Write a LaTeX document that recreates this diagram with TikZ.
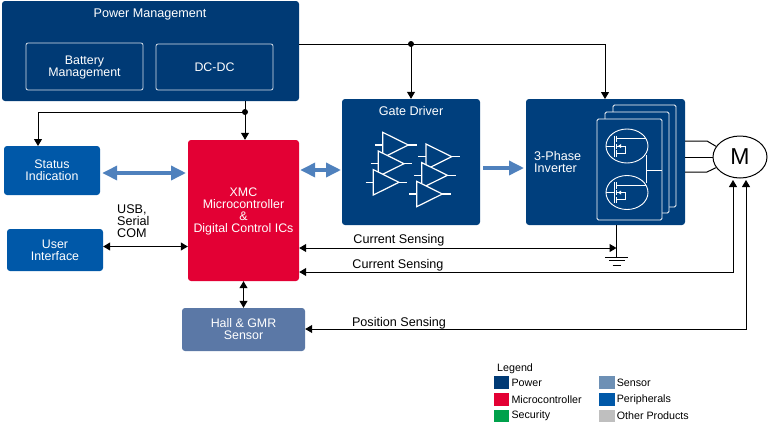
\documentclass[tikz,border=0pt]{standalone}
\usepackage{fontspec}
\setmainfont{Liberation Sans}
\usepackage{xcolor}
\usetikzlibrary{arrows.meta,positioning,shapes.geometric}
\definecolor{powerblue}{HTML}{003A75}
\definecolor{drvblue}{HTML}{003F7D}
\definecolor{periblue}{HTML}{0058A8}
\definecolor{mcured}{HTML}{E30034}
\definecolor{hallblue}{HTML}{5B78A6}
\definecolor{sensorblue}{HTML}{6D90B5}
\definecolor{bigarrow}{HTML}{4F81BD}
\definecolor{secgreen}{HTML}{00A14B}
\definecolor{othergray}{HTML}{BFBFBF}
\tikzset{
  block/.style={rounded corners=3pt, text=white, align=center, font=\fontsize{12.4}{12}\selectfont, inner sep=0pt},
  inbox/.style={draw=white!85!powerblue, line width=0.8pt, rounded corners=2pt, text=white, align=center, font=\fontsize{12.4}{12}\selectfont, inner sep=0pt},
  card/.style={draw=white, line width=0.9pt, fill=drvblue, rounded corners=1.5pt, inner sep=0pt},
  wire/.style={line width=1pt, -{Triangle[length=7pt,width=8pt]}},
  biwire/.style={line width=1pt, {Triangle[length=7pt,width=8pt]}-{Triangle[length=7pt,width=8pt]}},
  fatarrow/.style={line width=3.5pt, bigarrow, -{Triangle[length=15pt,width=14pt]}},
  fatbi/.style={line width=3.5pt, bigarrow, {Triangle[length=15pt,width=14pt]}-{Triangle[length=15pt,width=14pt]}},
  lbl/.style={font=\fontsize{12.6}{12}\selectfont, inner sep=0pt},
  junction/.style={circle, fill=black, minimum size=6pt, inner sep=0pt},
  legbox/.style={minimum width=15.5pt, minimum height=12.5pt, inner sep=0pt},
  legtxt/.style={font=\fontsize{10.7}{12}\selectfont, inner sep=0pt, anchor=west}
}
\begin{document}
\begin{tikzpicture}[x=1pt,y=-1pt]
\useasboundingbox (0,0) rectangle (768,432);

% Power Management
\node[block, fill=powerblue, minimum width=297pt, minimum height=100pt] (power) at (150.5,51) {};
\node[text=white, lbl] (powertitle) at (150,14) {Power Management};
\node[inbox, minimum width=117pt, minimum height=47pt] (battery) at (84.5,66.5) {\rule{0pt}{11pt}Battery\\Management};
\node[inbox, minimum width=117pt, minimum height=46pt] (dcdc) at (214.5,67) {DC-DC};

% Left blocks
\node[block, fill=periblue, minimum width=96pt, minimum height=49pt] (status) at (52,170.5) {Status\\Indication};
\node[block, fill=periblue, minimum width=96pt, minimum height=42pt] (user) at (55,250) {User\\Interface};

% Microcontroller
\node[block, fill=mcured, minimum width=111pt, minimum height=141pt] (mcu) at (243.5,210.5) {\rule{0pt}{11pt}XMC\\Microcontroller\\\&\\Digital Control ICs};
\node[block, fill=hallblue, minimum width=123pt, minimum height=43pt] (hall) at (243.5,329.5) {Hall \& GMR\\Sensor};

% Gate Driver
\node[block, fill=drvblue, minimum width=138pt, minimum height=126pt] (gate) at (411,162) {};
\node[text=white, lbl] (gatetitle) at (411,111) {Gate Driver};
\foreach \ax/\ay in {382.7/145, 378.3/163.7, 373.3/182.3, 426/156.7, 421.7/175.3, 416.7/194} {
  \draw[white, line width=1.2pt] (\ax-7.7,\ay) -- (\ax,\ay);
  \draw[white, line width=1.2pt] (\ax+25.7,\ay) -- (\ax+34,\ay);
  \draw[white, line width=1.2pt, fill=drvblue] (\ax,\ay-12.7) -- (\ax,\ay+12.7) -- (\ax+25.7,\ay) -- cycle;
}

% Inverter
\node[block, fill=drvblue, minimum width=159pt, minimum height=126pt] (inverter) at (605.5,162) {};
\node[card, minimum width=63pt, minimum height=102pt] (cardc) at (644.5,156) {};
\node[card, minimum width=64pt, minimum height=101pt] (cardb) at (637,162.5) {};
\node[card, minimum width=65pt, minimum height=101pt] (carda) at (629.5,169.5) {};
\node[text=white, lbl, align=left, anchor=west] (invlabel) at (534,161.5) {3-Phase\\Inverter};
\foreach \fy/\fname in {146/fetone, 192.5/fettwo} {
  \node[draw=white, line width=0.9pt, ellipse, minimum width=42pt, minimum height=34pt, inner sep=0pt] (\fname) at (627,\fy) {};
  \draw[white, line width=0.8pt] (\fname.west) -- (614.3,\fy) (614.3,\fy-10.5) -- (614.3,\fy+10.5);
  \draw[white, line width=1pt] (616.7,\fy-10.5) -- (616.7,\fy-4) (616.7,\fy-2.5) -- (616.7,\fy+2.5) (616.7,\fy+4) -- (616.7,\fy+10.5);
  \draw[white, line width=0.8pt] (616.7,\fy-7.3) -- (646,\fy-7.3);
  \draw[white, line width=0.8pt] (616.7,\fy+7.3) -- (625,\fy+7.3) -- (625,\fy) -- (616.7,\fy);
  \fill[white] (618,\fy) -- (621,\fy-2) -- (621,\fy+2) -- cycle;
}
\coordinate (midtap) at (646,170.5);
\draw[white, line width=0.8pt] (646,155) -- (646,183) (midtap) -- (carda.east |- midtap);

% Motor
\node[draw, fill=white, line width=1pt, ellipse, minimum width=54pt, minimum height=42pt, inner sep=0pt, font=\fontsize{23}{24}\selectfont] (motor) at (740,157) {M};
\draw[line width=1pt] (inverter.east |- 0,141) -- (707,141) -- (motor.156);
\draw[line width=1pt] (inverter.east |- 0,157) -- (motor.west);
\draw[line width=1pt] (inverter.east |- 0,172) -- (707,172) -- (motor.204);

% Connections
\coordinate (topjoin) at (411,44);
\coordinate (dcjoin) at (245,112);
\draw[line width=1pt] (power.east |- topjoin) -- (605,44);
\draw[wire] (605,44) -- (605,99);
\draw[wire] (topjoin) -- (gate.north);
\node[junction] (topdot) at (topjoin) {};
\draw[wire] (power.south -| dcjoin) -- (mcu.north -| dcjoin);
\draw[wire] (dcjoin) -- (38,112) -- (38,146);
\node[junction] (dcdot) at (dcjoin) {};
\draw[fatbi] (status.east |- 0,173) ++(2,0) -- (186,173);
\draw[fatbi] (mcu.east |- 0,170) ++(1,0) -- (341,170);
\draw[fatarrow] (483,168) -- (524,168);
\draw[biwire] (user.east |- 0,246.5) -- (mcu.west |- 0,246.5);
\draw[biwire] (mcu.south) -- (hall.north);
\node[lbl, align=left, anchor=north west] (usblabel) at (117,204.5) {USB,\\Serial\\COM};

% Sensing lines
\coordinate (gnd) at (616.5,257);
\draw[line width=1pt] (inverter.south -| gnd) -- (gnd);
\draw[line width=1pt] (605,257) -- (628,257) (609,260.5) -- (625,260.5) (612.7,265) -- (620.7,265);
\draw[biwire] (mcu.east |- 0,248) -- (616.5,248);
\node[lbl] (csone) at (399,240) {Current Sensing};
\draw[biwire] (mcu.east |- 0,272) -- (733,272) -- (733,180);
\node[lbl] (cstwo) at (398,265) {Current Sensing};
\draw[biwire] (hall.east |- 0,329) -- (746,329) -- (746,180);
\node[lbl] (posn) at (399,323) {Position Sensing};

% Legend
\node[legtxt] (legtitle) at (497,369) {Legend};
\foreach \ly/\lcol/\ltxt [count=\li] in {382.5/powerblue/Power, 399.5/mcured/Microcontroller, 416/secgreen/Security} {
  \node[legbox, fill=\lcol] (legl\li) at (501.7,\ly) {};
  \node[legtxt, right=1.7pt of legl\li] (legltxt\li) {\ltxt};
}
\foreach \ly/\lcol/\ltxt [count=\li] in {382.5/sensorblue/Sensor, 399.5/periblue/Peripherals, 416/othergray/Other Products} {
  \node[legbox, fill=\lcol] (legr\li) at (607,\ly) {};
  \node[legtxt, right=1.7pt of legr\li] (legrtxt\li) {\ltxt};
}
\end{tikzpicture}
\end{document}
